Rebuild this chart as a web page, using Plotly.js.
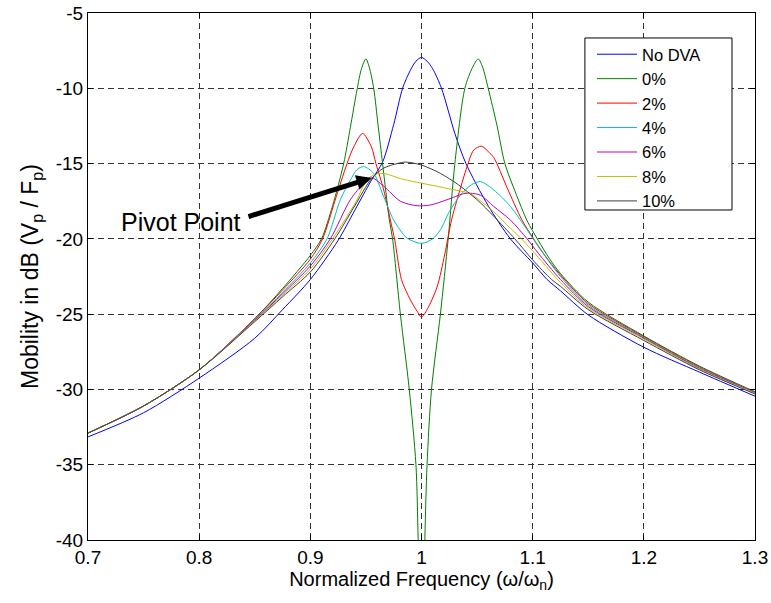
<!DOCTYPE html>
<html>
<head>
<meta charset="utf-8">
<script src="https://cdn.plot.ly/plotly-3.0.1.min.js"></script>
<style>
html,body{margin:0;padding:0;background:#fff;}
#chart{width:771px;height:603px;}
</style>
</head>
<body>
<div id="chart"></div>
<script>
// ---- Data ----
const seriesNames = ["No DVA", "0%", "2%", "4%", "6%", "8%", "10%"];

const noDvaX = [0.70,0.75,0.80,0.85,0.875,0.90,0.925,0.94,0.955,0.965,0.975,0.983,0.99,0.995,1.00,1.005,1.01,1.018,1.03,1.040,1.06,1.08,1.10,1.113,1.125,1.15,1.20,1.25,1.30];
const noDvaY = [-33.15,-31.55,-29.25,-26.6,-24.7,-22.7,-20.1,-18.1,-16.1,-14.9,-12.4,-10.0,-8.8,-8.2,-7.95,-8.2,-8.7,-10.0,-13.0,-15.0,-17.8,-20.0,-21.6,-22.7,-23.45,-25.05,-27.2,-28.85,-30.45];

const p0X = [0.70,0.75,0.80,0.85,0.875,0.90,0.91,0.92,0.93,0.936,0.942,0.946,0.950,0.953,0.957,0.961,0.965,0.971,0.974,0.981,0.989,0.995,0.997,1.000,1.003,1.005,1.009,1.017,1.024,1.030,1.039,1.046,1.051,1.055,1.060,1.068,1.075,1.085,1.095,1.105,1.115,1.125,1.15,1.20,1.25,1.30];
const p0Y = [-32.9,-31.1,-28.7,-25.3,-23.3,-21.1,-20.0,-17.8,-15.0,-12.6,-10.1,-8.7,-8.05,-8.6,-10.0,-12.5,-15.0,-18.7,-20.0,-25.0,-30.0,-35.0,-40.0,-50.0,-40.0,-35.0,-30.0,-25.0,-20.0,-15.0,-10.0,-8.6,-8.05,-8.6,-10.0,-12.5,-15.0,-17.0,-18.8,-20.1,-21.3,-22.3,-24.2,-26.45,-28.45,-30.15];

const p2X = [0.70,0.75,0.80,0.85,0.875,0.90,0.911,0.922,0.933,0.939,0.947,0.955,0.959,0.966,0.972,0.976,0.982,0.990,0.996,1.000,1.005,1.014,1.021,1.027,1.034,1.041,1.047,1.054,1.060,1.065,1.077,1.090,1.100,1.110,1.125,1.15,1.20,1.25,1.30];
const p2Y = [-32.9,-31.1,-28.7,-25.3,-23.4,-21.35,-20.0,-17.5,-15.0,-13.9,-13.0,-13.9,-15.0,-16.75,-18.75,-20.1,-22.7,-24.05,-24.8,-25.2,-24.7,-23.2,-21.0,-18.75,-16.9,-15.2,-14.1,-13.85,-14.2,-14.6,-16.6,-18.7,-19.9,-21.0,-22.4,-24.3,-26.5,-28.5,-30.2];

const p4X = [0.70,0.75,0.80,0.85,0.875,0.90,0.915,0.927,0.936,0.942,0.948,0.957,0.966,0.975,0.987,1.000,1.010,1.017,1.025,1.035,1.045,1.053,1.065,1.080,1.095,1.105,1.125,1.15,1.20,1.25,1.30];
const p4Y = [-32.9,-31.1,-28.7,-25.35,-23.55,-21.6,-20.0,-17.4,-16.1,-15.4,-15.2,-15.65,-17.2,-18.75,-19.95,-20.3,-20.0,-19.4,-18.2,-17.1,-16.4,-16.2,-16.75,-17.85,-19.4,-20.5,-22.5,-24.4,-26.55,-28.55,-30.2];

const p6X = [0.70,0.75,0.80,0.85,0.875,0.90,0.918,0.936,0.948,0.954,0.966,0.981,0.996,1.008,1.023,1.038,1.044,1.053,1.065,1.080,1.095,1.105,1.125,1.15,1.20,1.25,1.30];
const p6Y = [-32.9,-31.1,-28.7,-25.4,-23.65,-21.8,-20.0,-17.4,-16.3,-15.9,-16.5,-17.5,-17.8,-17.75,-17.4,-17.0,-16.97,-17.1,-17.85,-18.75,-20.0,-20.95,-22.7,-24.5,-26.6,-28.6,-30.2];

const p8X = [0.70,0.75,0.80,0.85,0.875,0.90,0.920,0.942,0.949,0.957,0.963,0.969,0.981,1.000,1.023,1.044,1.050,1.065,1.080,1.090,1.100,1.125,1.15,1.20,1.25,1.30];
const p8Y = [-32.9,-31.1,-28.7,-25.45,-23.75,-22.0,-20.0,-17.4,-16.3,-15.75,-15.65,-15.7,-16.0,-16.3,-16.65,-17.0,-17.3,-18.2,-19.3,-20.0,-20.8,-22.9,-24.6,-26.65,-28.65,-30.25];

const p10X = [0.70,0.75,0.80,0.85,0.875,0.90,0.922,0.94,0.955,0.966,0.978,0.986,1.000,1.017,1.033,1.050,1.065,1.084,1.100,1.117,1.125,1.15,1.20,1.25,1.30];
const p10Y = [-32.9,-31.1,-28.7,-25.5,-23.85,-22.2,-20.0,-17.8,-16.0,-15.3,-15.0,-14.9,-15.1,-15.65,-16.4,-17.4,-18.5,-20.0,-21.4,-22.7,-23.15,-24.7,-26.75,-28.7,-30.3];

const xTicks = [0.7,0.8,0.9,1.0,1.1,1.2,1.3];
const xTickLabels = ["0.7","0.8","0.9","1","1.1","1.2","1.3"];
const yTicks = [-40,-35,-30,-25,-20,-15,-10,-5];
const yTickLabels = ["-40","-35","-30","-25","-20","-15","-10","-5"];

const pivotLabel = "Pivot Point";
const pivotTip = {x: 0.955, y: -15.95};
const pivotTail = {x: 0.843, y: -18.55};
const pivotText = {x: 0.7835, y: -18.9};

// ---- Styles ----
const colors = ["#0000FF", "#008000", "#FF0000", "#00BFBF", "#BF00BF", "#BFBF00", "#404040"];
const xs = [noDvaX, p0X, p2X, p4X, p6X, p8X, p10X];
const ys = [noDvaY, p0Y, p2Y, p4Y, p6Y, p8Y, p10Y];

const font = "Arial, 'Liberation Sans', sans-serif";

const traces = seriesNames.map((n, i) => ({
  type: "scatter",
  mode: "lines",
  name: n,
  x: xs[i],
  y: ys[i],
  line: {color: colors[i], width: 1, shape: "spline", smoothing: 0.8}
}));

const axisCommon = {
  showline: true,
  linecolor: "#000",
  linewidth: 1,
  mirror: "ticks",
  ticks: "inside",
  ticklen: 5,
  tickcolor: "#000",
  showgrid: true,
  gridcolor: "#333",
  griddash: "6px,4px",
  gridwidth: 1,
  zeroline: false,
  tickfont: {family: font, size: 19, color: "#000"}
};

const layout = {
  width: 771,
  height: 603,
  margin: {l: 88, r: 16, t: 13, b: 63},
  paper_bgcolor: "#fff",
  plot_bgcolor: "#fff",
  showlegend: true,
  xaxis: Object.assign({}, axisCommon, {
    range: [0.7, 1.3],
    tickvals: xTicks,
    ticktext: xTickLabels,
    title: {text: "Normalized Frequency (ω/ω<sub>n</sub>)", font: {family: font, size: 20, color: "#000"}, standoff: 5}
  }),
  yaxis: Object.assign({}, axisCommon, {
    range: [-40, -5],
    tickvals: yTicks,
    ticktext: yTickLabels,
    title: {text: "Mobility in dB (V<sub>p</sub> / F<sub>p</sub>)", font: {family: font, size: 23, color: "#000"}, standoff: 10}
  }),
  legend: {
    x: 0.7556, y: 0.9545, xanchor: "left", yanchor: "top",
    bgcolor: "rgba(0,0,0,0)",
    borderwidth: 0,
    font: {family: font, size: 16.5, color: "#000"},
    tracegroupgap: 0,
    itemwidth: 40
  },
  shapes: [
    {
      type: "rect", xref: "paper", yref: "paper",
      x0: 0.745, x1: 0.9655, y0: 0.6262, y1: 0.9526,
      line: {color: "#000", width: 1}, fillcolor: "#fff", layer: "above"
    }
  ],
  annotations: [
    {
      x: pivotTip.x, y: pivotTip.y, xref: "x", yref: "y",
      ax: pivotTail.x, ay: pivotTail.y, axref: "x", ayref: "y",
      text: "", showarrow: true, arrowhead: 2, arrowsize: 0.6, arrowwidth: 5, arrowcolor: "#000"
    },
    {
      x: pivotText.x, y: pivotText.y, xref: "x", yref: "y",
      text: pivotLabel, showarrow: false,
      font: {family: font, size: 25, color: "#000"}
    }
  ]
};

Plotly.newPlot("chart", traces, layout, {displayModeBar: false, staticPlot: true});
</script>
</body>
</html>
